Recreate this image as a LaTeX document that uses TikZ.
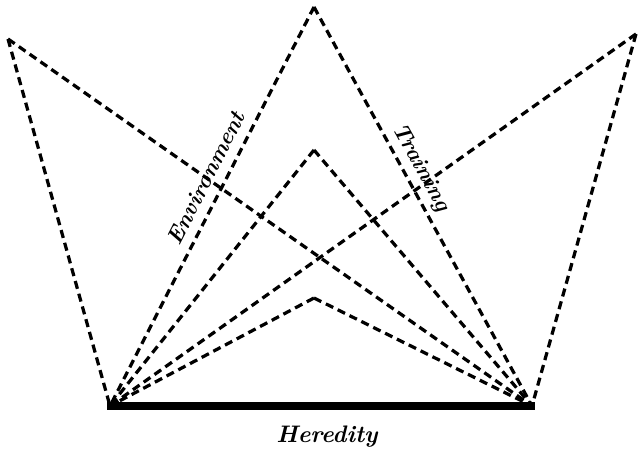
\documentclass[tikz,border=0pt]{standalone}
\usepackage{tikz}
\usetikzlibrary{positioning}

\begin{document}
\begin{tikzpicture}[
  x=0.025cm, y=-0.025cm,
  font=\bfseries\itshape\fontsize{16}{18}\selectfont,
  link/.style={line width=2.3pt, dash pattern=on 5.8pt off 3.6pt},
  base/.style={line width=5.9pt},
  lbl/.style={inner sep=1pt},
]
  \useasboundingbox (0,0) rectangle (639,451);

  % ends of the base line
  \coordinate (hl) at (110,406);
  \coordinate (hr) at (532,406);
  % outer and inner apexes
  \coordinate (tl) at (8,39);
  \coordinate (tm) at (314,7);
  \coordinate (tr) at (636,34);
  \coordinate (mid) at (314,150);
  \coordinate (low) at (314,298);

  \foreach \p in {tl, tm, tr, mid, low} {
    \draw[link] (\p) -- (hl);
    \draw[link] (\p) -- (hr);
  }

  \draw[base] ([xshift=-2]hl) -- ([xshift=2]hr);

  \node[lbl, rotate=63] (env) at (206,178) {Environment};
  \node[lbl, rotate=-61] (trn) at (421,168) {Training};
  \node[lbl, font=\bfseries\itshape\fontsize{17}{19}\selectfont] (her) at (327,437) {Heredity};
\end{tikzpicture}
\end{document}
